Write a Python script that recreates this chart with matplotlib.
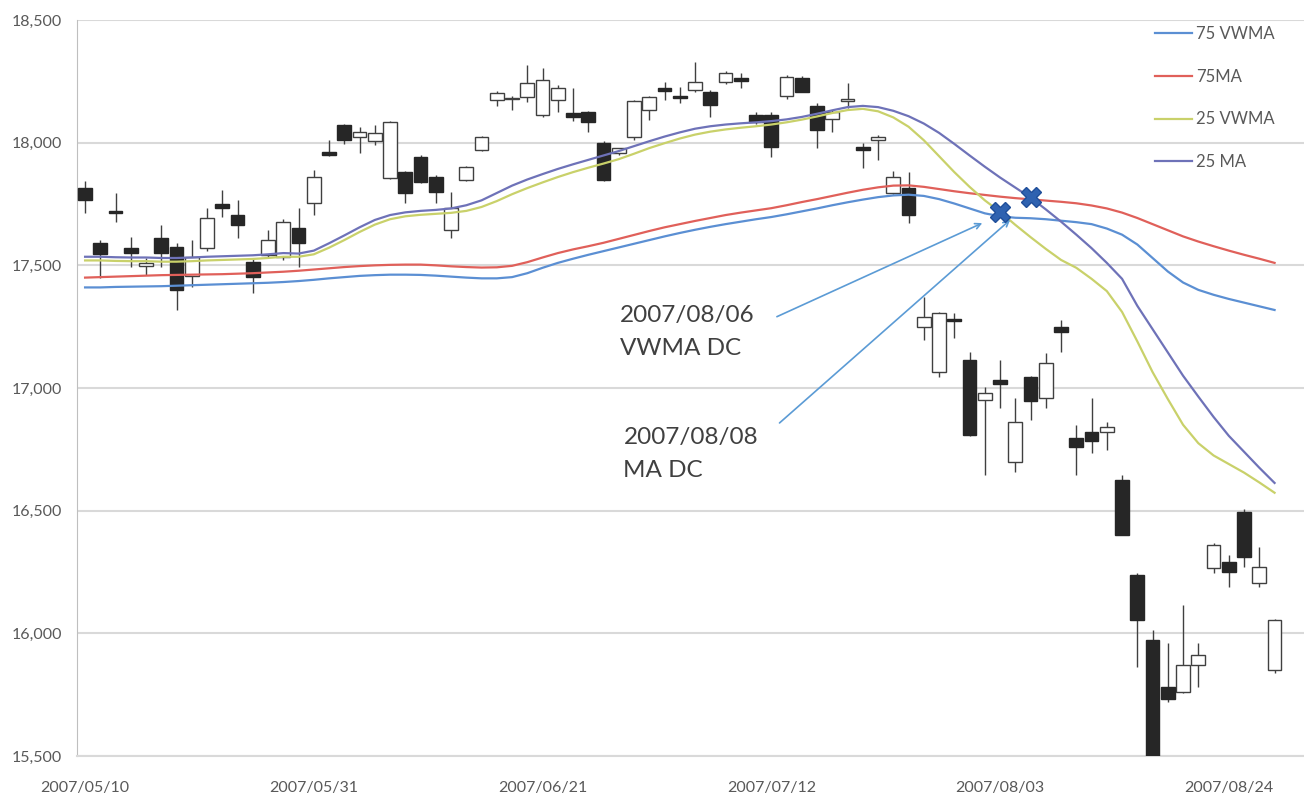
import matplotlib
matplotlib.use("Agg")
import matplotlib.pyplot as plt
import numpy as np

plt.rcParams['font.family'] = ['Lato', 'DejaVu Sans']

dates = ["2007/05/10", "2007/05/11", "2007/05/14", "2007/05/15", "2007/05/16", "2007/05/17", "2007/05/18",
         "2007/05/21", "2007/05/22", "2007/05/23", "2007/05/24", "2007/05/25", "2007/05/28", "2007/05/29",
         "2007/05/30", "2007/05/31", "2007/06/01", "2007/06/04", "2007/06/05", "2007/06/06", "2007/06/07",
         "2007/06/08", "2007/06/11", "2007/06/12", "2007/06/13", "2007/06/14", "2007/06/15", "2007/06/18",
         "2007/06/19", "2007/06/20", "2007/06/21", "2007/06/22", "2007/06/25", "2007/06/26", "2007/06/27",
         "2007/06/28", "2007/06/29", "2007/07/02", "2007/07/03", "2007/07/04", "2007/07/05", "2007/07/06",
         "2007/07/09", "2007/07/10", "2007/07/11", "2007/07/12", "2007/07/13", "2007/07/17", "2007/07/18",
         "2007/07/19", "2007/07/20", "2007/07/23", "2007/07/24", "2007/07/25", "2007/07/26", "2007/07/27",
         "2007/07/30", "2007/07/31", "2007/08/01", "2007/08/02", "2007/08/03", "2007/08/06", "2007/08/07",
         "2007/08/08", "2007/08/09", "2007/08/10", "2007/08/13", "2007/08/14", "2007/08/15", "2007/08/16",
         "2007/08/17", "2007/08/20", "2007/08/21", "2007/08/22", "2007/08/23", "2007/08/24", "2007/08/27",
         "2007/08/28", "2007/08/29"]

opens = [17815, 17591, 17722, 17572, 17496, 17612, 17575, 17455, 17571, 17752, 17705, 17514, 17542, 17534,
         17652, 17754, 17962, 18072, 18023, 18005, 17856, 17881, 17942, 17861, 17644, 17848, 17970, 18174,
         18180, 18186, 18113, 18174, 18121, 18125, 17999, 17958, 18023, 18133, 18222, 18192, 18215, 18207,
         18247, 18262, 18113, 18113, 18190, 18264, 18150, 18095, 18168, 17983, 18012, 17795, 17815, 17250,
         17066, 17282, 17115, 16952, 17033, 16700, 17045, 16960, 17250, 16797, 16821, 16822, 16626, 16238,
         15973, 15782, 15762, 15872, 16267, 16292, 16495, 16206, 15851]
highs = [17845, 17603, 17795, 17616, 17530, 17665, 17590, 17603, 17734, 17807, 17766, 17530, 17644, 17690,
         17734, 17889, 18011, 18078, 18064, 18072, 18090, 17886, 17950, 17870, 17799, 17905, 18027, 18210,
         18190, 18317, 18304, 18235, 18223, 18130, 18005, 17980, 18174, 18190, 18247, 18225, 18329, 18215,
         18292, 18284, 18125, 18125, 18275, 18270, 18160, 18135, 18243, 18000, 18030, 17885, 17880, 17371,
         17310, 17305, 17147, 17005, 17115, 16960, 17050, 17143, 17278, 16850, 16960, 16860, 16646, 16245,
         16014, 15961, 16116, 15961, 16370, 16320, 16505, 16352, 16060]
lows = [17715, 17450, 17677, 17494, 17460, 17494, 17318, 17412, 17560, 17697, 17612, 17388, 17530, 17520,
        17494, 17705, 17946, 17995, 17958, 17990, 17850, 17754, 17836, 17754, 17612, 17844, 17965, 18150,
        18133, 18166, 18105, 18125, 18090, 18044, 17845, 17950, 18011, 18092, 18174, 18160, 18205, 18105,
        18240, 18223, 18075, 17942, 18180, 18207, 17978, 18044, 18140, 17897, 17930, 17790, 17673, 17196,
        17045, 17204, 16805, 16646, 16920, 16658, 16870, 16920, 17147, 16646, 16736, 16748, 16400, 15863,
        15262, 15720, 15755, 15782, 16245, 16190, 16271, 16190, 15840]
closes = [17766, 17545, 17712, 17552, 17508, 17552, 17400, 17534, 17693, 17735, 17665, 17453, 17603, 17677,
          17591, 17861, 17950, 18011, 18044, 18040, 18084, 17795, 17840, 17799, 17734, 17901, 18023, 18203,
          18184, 18243, 18255, 18223, 18105, 18084, 17848, 17978, 18170, 18186, 18210, 18184, 18247, 18154,
          18284, 18250, 18085, 17983, 18268, 18207, 18052, 18125, 18178, 17972, 18022, 17861, 17705, 17290,
          17306, 17275, 16810, 16980, 17015, 16862, 16945, 17100, 17228, 16760, 16783, 16842, 16402, 16055,
          15273, 15732, 15872, 15910, 16361, 16248, 16312, 16271, 16055]

vwma75 = [17410, 17410, 17412, 17413, 17414, 17415, 17417, 17419, 17421, 17423, 17425, 17427, 17429, 17432,
          17436, 17441, 17447, 17452, 17457, 17460, 17462, 17462, 17461, 17458, 17454, 17450, 17447, 17447,
          17452, 17468, 17490, 17510, 17527, 17543, 17558, 17573, 17588, 17603, 17618, 17632, 17645, 17657,
          17668, 17678, 17688, 17697, 17708, 17720, 17732, 17745, 17757, 17768, 17778, 17785, 17788, 17783,
          17770, 17752, 17732, 17712, 17700, 17694, 17692, 17688, 17682, 17676, 17668, 17650, 17625, 17585,
          17530, 17475, 17430, 17400, 17380, 17363, 17348, 17333, 17318]
ma75 = [17450, 17452, 17454, 17456, 17458, 17460, 17461, 17462, 17463, 17464, 17466, 17468, 17471, 17474,
        17478, 17483, 17488, 17493, 17497, 17500, 17502, 17503, 17503, 17500, 17496, 17493, 17491, 17492,
        17498, 17513, 17532, 17550, 17565, 17578, 17592, 17608, 17624, 17640, 17655, 17668, 17681, 17693,
        17705, 17715, 17724, 17733, 17745, 17758, 17770, 17783, 17796, 17808, 17818, 17825, 17826, 17820,
        17811, 17802, 17794, 17787, 17780, 17774, 17769, 17764, 17759, 17753, 17744, 17732, 17715, 17693,
        17668, 17643, 17618, 17597, 17578, 17560, 17543, 17527, 17510]
vwma25 = [17520, 17520, 17518, 17517, 17517, 17515, 17515, 17517, 17520, 17522, 17524, 17526, 17530, 17535,
          17535, 17545, 17572, 17603, 17636, 17666, 17688, 17700, 17706, 17710, 17714, 17722, 17738, 17762,
          17790, 17815, 17838, 17860, 17880, 17898, 17915, 17933, 17955, 17978, 17998, 18017, 18033, 18045,
          18054, 18061, 18067, 18074, 18083, 18094, 18107, 18121, 18133, 18138, 18128, 18103, 18065, 18010,
          17945, 17880, 17820, 17765, 17718, 17665, 17615, 17567, 17522, 17490, 17445, 17395, 17310, 17190,
          17065, 16955, 16850, 16775, 16725, 16690, 16655, 16615, 16573]
ma25 = [17535, 17535, 17533, 17532, 17532, 17530, 17530, 17532, 17535, 17537, 17539, 17541, 17545, 17550,
        17548, 17560, 17590, 17622, 17655, 17685, 17705, 17716, 17722, 17726, 17732, 17745, 17765, 17795,
        17825, 17850, 17872, 17893, 17912, 17930, 17948, 17966, 17986, 18006, 18025, 18042, 18057, 18067,
        18074, 18079, 18083, 18088, 18095, 18105, 18118, 18132, 18145, 18150, 18145, 18130, 18108, 18078,
        18040, 17995, 17948, 17902, 17858, 17817, 17776, 17728, 17678, 17625, 17570, 17510, 17445, 17335,
        17240, 17145, 17050, 16965, 16882, 16805, 16740, 16675, 16613]

# dead-cross points marked on the chart
dc_dates = ["2007/08/03", "2007/08/07"]
dc_values = [17718, 17779]

x = np.arange(len(dates))
o = np.array(opens)
h = np.array(highs)
l = np.array(lows)
c = np.array(closes)
up = c >= o

fig = plt.figure(figsize=(13.04, 7.95), dpi=100)
ax = fig.add_axes([0.0594, 0.0491, 0.9406, 0.9257])

ax.vlines(x, l, h, color='#404040', lw=1, zorder=2)
ax.bar(x[up], (c - o)[up], bottom=o[up], width=0.9, color='white', edgecolor='#404040', lw=1, zorder=3)
ax.bar(x[~up], (o - c)[~up], bottom=c[~up], width=0.9, color='#262626', edgecolor='#262626', lw=1, zorder=3)

ax.plot(x, vwma75, color='#5B8FD3', lw=1.6, label='75 VWMA', zorder=4)
ax.plot(x, ma75, color='#E0605A', lw=1.6, label='75MA', zorder=4)
ax.plot(x, vwma25, color='#C9D16A', lw=1.6, label='25 VWMA', zorder=4)
ax.plot(x, ma25, color='#6E72B8', lw=1.6, label='25 MA', zorder=4)

dc_x = [dates.index(d) for d in dc_dates]
ax.plot(dc_x, dc_values, linestyle='none', marker='X', markersize=15, color='#2F62B0',
        markeredgecolor='#1F4E9A', zorder=6)

ax.annotate('', xy=(59.0, 17677), xytext=(45.2, 17286),
            arrowprops=dict(arrowstyle='->', color='#5B9BD5', lw=1.2), zorder=5)
ax.annotate('', xy=(60.8, 17693), xytext=(45.4, 16850),
            arrowprops=dict(arrowstyle='->', color='#5B9BD5', lw=1.2), zorder=5)
ax.text(35.1, 17340, "2007/08/06\nVWMA DC", fontsize=17.5, color='#404040', va='top', ha='left',
        linespacing=1.75)
ax.text(35.3, 16843, "2007/08/08\nMA DC", fontsize=17.5, color='#404040', va='top', ha='left',
        linespacing=1.75)

ax.set_xlim(-0.5, 79.93)
ax.set_ylim(15500, 18500)
ax.set_yticks(np.arange(15500, 18501, 500))
ax.set_yticklabels([f"{v:,}" for v in range(15500, 18501, 500)])
ax.set_xticks(x[::15])
ax.set_xticklabels([dates[i] for i in x[::15]])
ax.tick_params(axis='both', length=0, labelsize=11.5, labelcolor='#595959')
ax.tick_params(axis='y', pad=11)
ax.tick_params(axis='x', pad=18)
ax.yaxis.grid(True, color='#D9D9D9', lw=1.5)
ax.set_axisbelow(True)
for s in ['top', 'right']:
    ax.spines[s].set_visible(False)
ax.spines['left'].set_color('#BFBFBF')
ax.spines['bottom'].set_color('#D9D9D9')
ax.spines['bottom'].set_linewidth(1.5)

leg = ax.legend(loc='upper left', bbox_to_anchor=(1155 / 1304, 1 - 26 / 795), bbox_transform=fig.transFigure,
                frameon=False, fontsize=12, handlelength=2.2, handletextpad=0.25, labelspacing=1.6,
                borderpad=0, borderaxespad=0)
for t in leg.get_texts():
    t.set_color('#595959')

fig.savefig("out.png", dpi=100)
